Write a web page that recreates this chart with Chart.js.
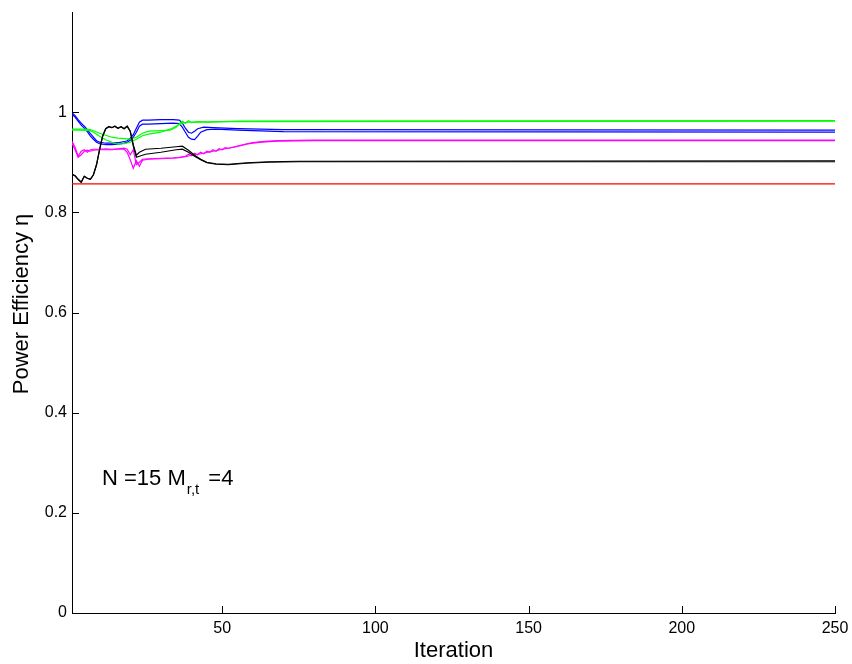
<!DOCTYPE html>
<html>
<head>
<meta charset="utf-8">
<script src="https://cdn.jsdelivr.net/npm/chart.js@4.4.1/dist/chart.umd.min.js"></script>
<style>
html,body{margin:0;padding:0;background:#fff;}
#wrap{width:852px;height:664px;position:relative;}
</style>
</head>
<body>
<div id="wrap"><canvas id="c" width="852" height="664"></canvas></div>
<script>
// ---- data ----
const xTickValues = [50, 100, 150, 200, 250];
const yTickValues = [0, 0.2, 0.4, 0.6, 0.8, 1];
const yTickLabels = ['0', '0.2', '0.4', '0.6', '0.8', '1'];

const blueAIter = [1,2,3,4,5,6,7,8,9,10,12,14,16,18,19,20,21,22,23,24,26,30,34,36,37,38,39,40,41,42,44,47,55,70,250];
const blueAVal  = [0.999,0.993,0.985,0.978,0.972,0.965,0.957,0.950,0.943,0.940,0.938,0.938,0.939,0.941,0.943,0.948,0.955,0.968,0.980,0.984,0.984,0.985,0.985,0.984,0.978,0.968,0.960,0.958,0.962,0.967,0.970,0.969,0.967,0.965,0.964];
const blueBIter = [1,2,3,4,5,6,7,8,9,10,12,14,16,18,19,20,21,22,23,24,26,30,34,36,37,38,39,40,41,42,43,45,48,55,70,250];
const blueBVal  = [0.996,0.990,0.982,0.974,0.968,0.961,0.952,0.946,0.940,0.937,0.935,0.935,0.936,0.938,0.940,0.944,0.950,0.960,0.972,0.976,0.976,0.977,0.978,0.977,0.970,0.960,0.950,0.946,0.945,0.952,0.960,0.965,0.966,0.964,0.961,0.960];

const greenAIter = [1,4,7,8,10,12,14,16,18,20,22,24,26,30,33,35,36,37,38,39,40,42,46,55,250];
const greenAVal  = [0.966,0.966,0.965,0.963,0.958,0.954,0.950,0.948,0.947,0.946,0.950,0.958,0.962,0.963,0.964,0.970,0.977,0.982,0.978,0.983,0.979,0.981,0.980,0.982,0.983];
const greenBIter = [1,4,7,8,10,12,14,16,18,20,22,24,26,30,33,35,37,39,42,50,250];
const greenBVal  = [0.964,0.964,0.963,0.960,0.952,0.945,0.940,0.936,0.937,0.940,0.946,0.953,0.956,0.960,0.966,0.972,0.978,0.980,0.980,0.981,0.982];

const magentaAIter = [1,2,3,4,5,6,7,8,10,12,14,16,18,19,20,21,22,23,24,26,30,34,36,38,39,40,41,42,43,44,45,46,47,48,49,50,51,52,54,56,58,60,63,68,80,250];
const magentaAVal  = [0.942,0.930,0.912,0.922,0.925,0.920,0.925,0.926,0.926,0.927,0.926,0.927,0.928,0.926,0.915,0.925,0.895,0.900,0.906,0.907,0.908,0.909,0.910,0.912,0.916,0.913,0.918,0.915,0.920,0.917,0.922,0.920,0.925,0.922,0.927,0.925,0.929,0.928,0.931,0.934,0.937,0.939,0.941,0.943,0.944,0.944];
const magentaBIter = [1,2,3,4,5,6,7,8,10,12,14,16,18,19,20,21,22,23,24,26,30,34,36,38,40,42,44,46,48,50,52,54,56,58,60,63,68,80,250];
const magentaBVal  = [0.938,0.925,0.910,0.915,0.922,0.924,0.922,0.924,0.925,0.925,0.925,0.926,0.926,0.920,0.905,0.888,0.903,0.892,0.904,0.906,0.907,0.908,0.909,0.911,0.914,0.916,0.918,0.921,0.923,0.926,0.928,0.930,0.933,0.936,0.938,0.940,0.942,0.943,0.943];

const blackAIter = [1,2,3,4,5,6,7,8,9,10,11,12,13,14,15,16,17,18,19,20,21,22,23,25,30,35,37,39,41,43,45,48,52,58,65,75,250];
const blackAVal  = [0.876,0.873,0.866,0.860,0.872,0.868,0.866,0.875,0.895,0.925,0.952,0.967,0.971,0.969,0.972,0.968,0.971,0.967,0.972,0.962,0.935,0.914,0.920,0.926,0.928,0.931,0.932,0.924,0.914,0.906,0.900,0.897,0.896,0.899,0.901,0.902,0.903];
const blackBIter = [1,2,3,4,5,6,7,8,9,10,11,12,13,14,15,16,17,18,19,20,21,22,23,25,30,35,37,39,41,43,45,48,52,58,65,75,250];
const blackBVal  = [0.876,0.873,0.866,0.860,0.872,0.868,0.866,0.875,0.895,0.925,0.952,0.967,0.971,0.969,0.972,0.968,0.971,0.967,0.972,0.962,0.932,0.910,0.912,0.916,0.920,0.925,0.926,0.920,0.912,0.905,0.899,0.896,0.895,0.898,0.900,0.901,0.901];

const redIter = [1, 250];
const redVal  = [0.857, 0.857];

const annotationMain = 'N =15 M';
const annotationSub = 'r,t';
const annotationTail = ' =4';
const xTitle = 'Iteration';
const yTitle = 'Power Efficiency η';

// ---- build ----
function pts(xs, ys){ return xs.map((x,i)=>({x:x, y:ys[i]})); }
function ds(xs, ys, color){
  return {data: pts(xs, ys), borderColor: color, backgroundColor: color, borderWidth: 1.2,
          pointRadius: 0, tension: 0, fill: false};
}
const FONT = '"Liberation Sans", Arial, Helvetica, sans-serif';

const overlay = {
  id: 'overlay',
  afterDraw(chart){
    const ctx = chart.ctx, ca = chart.chartArea;
    const xs = chart.scales.x, ys = chart.scales.y;
    ctx.save();
    // inward tick marks
    ctx.strokeStyle = '#000'; ctx.lineWidth = 1;
    ctx.beginPath();
    xTickValues.forEach(v=>{
      const px = Math.round(xs.getPixelForValue(v)) + 0.5;
      ctx.moveTo(px, ca.bottom); ctx.lineTo(px, ca.bottom - 7);
    });
    yTickValues.forEach(v=>{
      const py = Math.round(ys.getPixelForValue(v)) + 0.5;
      ctx.moveTo(ca.left, py); ctx.lineTo(ca.left + 7, py);
    });
    ctx.stroke();
    // axis titles
    ctx.fillStyle = '#000';
    ctx.font = '22px ' + FONT;
    ctx.textAlign = 'center'; ctx.textBaseline = 'alphabetic';
    ctx.fillText(xTitle, (ca.left + ca.right)/2, 657);
    ctx.save();
    ctx.translate(28, 304);
    ctx.rotate(-Math.PI/2);
    ctx.fillText(yTitle, 0, 0);
    ctx.restore();
    // annotation
    ctx.textAlign = 'left';
    ctx.font = '22px ' + FONT;
    let x0 = 102;
    ctx.fillText(annotationMain, x0, 485);
    x0 += ctx.measureText(annotationMain).width + 1;
    ctx.font = '15px ' + FONT;
    ctx.fillText(annotationSub, x0, 494);
    x0 += ctx.measureText(annotationSub).width + 3;
    ctx.font = '22px ' + FONT;
    ctx.fillText(annotationTail, x0, 485);
    ctx.restore();
  }
};

new Chart(document.getElementById('c'), {
  type: 'line',
  data: {
    datasets: [
      ds(redIter, redVal, '#ff0000'),
      ds(blackBIter, blackBVal, '#000000'),
      ds(blackAIter, blackAVal, '#000000'),
      ds(magentaBIter, magentaBVal, '#ff00ff'),
      ds(magentaAIter, magentaAVal, '#ff00ff'),
      ds(greenBIter, greenBVal, '#00ff00'),
      ds(greenAIter, greenAVal, '#00ff00'),
      ds(blueBIter, blueBVal, '#0000ff'),
      ds(blueAIter, blueAVal, '#0000ff')
    ]
  },
  options: {
    responsive: false,
    animation: false,
    events: [],
    layout: {padding: {top: 12, right: 17, bottom: 0, left: 0}},
    plugins: {legend: {display: false}, tooltip: {enabled: false}},
    scales: {
      x: {
        type: 'linear', min: 1, max: 250,
        grid: {display: false, drawTicks: false},
        border: {display: true, color: '#000', width: 1},
        afterBuildTicks: s => { s.ticks = xTickValues.map(v=>({value:v})); },
        afterFit: s => { s.height = 51; s.paddingLeft = 0; s.paddingRight = 0; },
        ticks: {color: '#000', font: {family: FONT, size: 16}, padding: 6, maxRotation: 0,
                callback: v => String(v)}
      },
      y: {
        type: 'linear', min: 0, max: 1.2,
        grid: {display: false, drawTicks: false},
        border: {display: true, color: '#000', width: 1},
        afterBuildTicks: s => { s.ticks = yTickValues.map(v=>({value:v})); },
        afterFit: s => { s.width = 72; s.paddingTop = 0; s.paddingBottom = 0; },
        ticks: {color: '#000', font: {family: FONT, size: 16}, padding: 5,
                callback: (v) => { const i = yTickValues.indexOf(v); return i >= 0 ? yTickLabels[i] : ''; }}
      }
    }
  },
  plugins: [overlay]
});
</script>
</body>
</html>
